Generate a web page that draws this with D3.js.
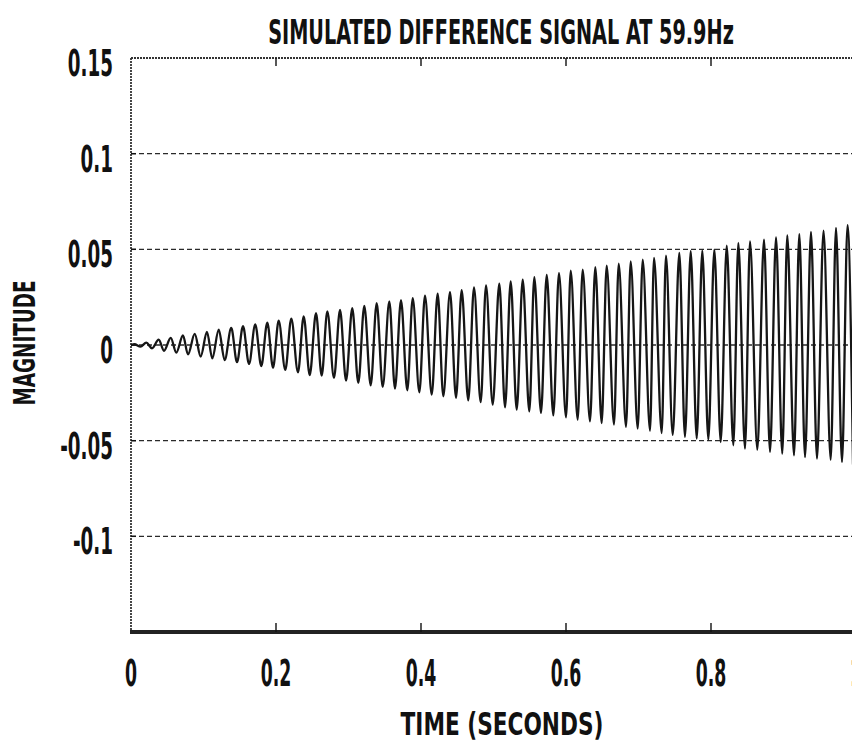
<!DOCTYPE html>
<html><head><meta charset="utf-8">
<script src="https://cdn.jsdelivr.net/npm/d3@7"></script>
<style>html,body{margin:0;padding:0;background:#fff;overflow:hidden}</style>
</head><body><svg id="c" width="852" height="744"></svg>
<script>
const title = "SIMULATED DIFFERENCE SIGNAL AT 59.9Hz";
const xLabel = "TIME (SECONDS)";
const yLabel = "MAGNITUDE";
const xTicks = [0, 0.2, 0.4, 0.6, 0.8, 1];
const xTickLabels = ["0", "0.2", "0.4", "0.6", "0.8", "1"];
const yTicks = [0.15, 0.1, 0.05, 0, -0.05, -0.1];
const yTickLabels = ["0.15", "0.1", "0.05", "0", "-0.05", "-0.1"];
const gridValues = [0.1, 0.05, 0, -0.05, -0.1];

// extrema of the difference signal (seconds, magnitude)
const times = [0, 0.0048, 0.0131, 0.0211, 0.0290, 0.0382, 0.0455, 0.0548, 0.0625, 0.0717,
  0.0786, 0.0879, 0.0961, 0.1048, 0.1121, 0.1210, 0.1292, 0.1383, 0.1462, 0.1545,
  0.1628, 0.1714, 0.1797, 0.1880, 0.1959, 0.2037, 0.2128, 0.2211, 0.2303, 0.2382,
  0.2465, 0.2552, 0.2630, 0.2708, 0.2800, 0.2883, 0.2966, 0.3052, 0.3135, 0.3218,
  0.3306, 0.3389, 0.3472, 0.3563, 0.3641, 0.3724, 0.3811, 0.3886, 0.3977, 0.4055,
  0.4148, 0.4230, 0.4308, 0.4400, 0.4483, 0.4561, 0.4652, 0.4731, 0.4823, 0.4897,
  0.4989, 0.5080, 0.5159, 0.5237, 0.5320, 0.5403, 0.5494, 0.5563, 0.5655, 0.5734,
  0.5825, 0.5903, 0.6000, 0.6065, 0.6161, 0.6230, 0.6331, 0.6404, 0.6492, 0.6561,
  0.6662, 0.6727, 0.6828, 0.6892, 0.6989, 0.7058, 0.7159, 0.7214, 0.7320, 0.7379,
  0.7472, 0.7563, 0.7641, 0.7720, 0.7803, 0.7880, 0.7963, 0.8046, 0.8134, 0.8217,
  0.8308, 0.8377, 0.8469, 0.8538, 0.8639, 0.8731, 0.8814, 0.8897, 0.8983, 0.9052,
  0.9145, 0.9218, 0.9297, 0.9379, 0.9462, 0.9552, 0.9651, 0.9724, 0.9807, 0.9883,
  0.9959];
const values = [0, 0.0004, -0.0008, 0.0012, -0.0017, 0.0028, -0.0030, 0.0037, -0.0040, 0.0050,
  -0.0049, 0.0058, -0.0060, 0.0068, -0.0070, 0.0080, -0.0079, 0.0089, -0.0090, 0.0098,
  -0.0099, 0.0108, -0.0110, 0.0117, -0.0119, 0.0127, -0.0130, 0.0138, -0.0143, 0.0150,
  -0.0157, 0.0166, -0.0160, 0.0175, -0.0172, 0.0184, -0.0186, 0.0192, -0.0198, 0.0205,
  -0.0211, 0.0219, -0.0219, 0.0228, -0.0228, 0.0235, -0.0237, 0.0245, -0.0247, 0.0258,
  -0.0259, 0.0268, -0.0268, 0.0276, -0.0276, 0.0287, -0.0289, 0.0301, -0.0299, 0.0312,
  -0.0311, 0.0320, -0.0326, 0.0332, -0.0338, 0.0341, -0.0347, 0.0355, -0.0355, 0.0367,
  -0.0368, 0.0376, -0.0378, 0.0388, -0.0390, 0.0394, -0.0399, 0.0407, -0.0408, 0.0415,
  -0.0416, 0.0425, -0.0428, 0.0437, -0.0437, 0.0446, -0.0448, 0.0455, -0.0460, 0.0467,
  -0.0470, 0.0481, -0.0480, 0.0490, -0.0489, 0.0493, -0.0494, 0.0498, -0.0507, 0.0519,
  -0.0524, 0.0533, -0.0542, 0.0542, -0.0547, 0.0551, -0.0559, 0.0563, -0.0568, 0.0573,
  -0.0577, 0.0580, -0.0586, 0.0591, -0.0594, 0.0598, -0.0600, 0.0612, -0.0612, 0.0626,
  -0.0625];

const FONT = "'DejaVu Sans Condensed', 'DejaVu Sans', sans-serif";
const INK = "#111";

const svg = d3.select("#c");
const x = d3.scaleLinear().domain([0, 1]).range([131, 856]);
const y = d3.scaleLinear().domain([-0.15, 0.15]).range([632, 58]);

// condensed bold text helper: draws at (px,py), squeezed horizontally
function label(parent, txt, px, py, size, anchor, sx, rot) {
  const g = parent.append("g")
    .attr("transform", `translate(${px},${py})` + (rot ? ` rotate(${rot})` : "") + ` scale(${sx},1)`);
  return g.append("text")
    .attr("text-anchor", anchor)
    .attr("font-family", FONT).attr("font-weight", "bold").attr("font-size", size)
    .attr("fill", INK).text(txt);
}
function fitLabel(parent, txt, px, py, size, width, rot) {
  const t = label(parent, txt, px, py, size, "middle", 1, rot);
  const w = t.node().getComputedTextLength();
  const sx = width / w;
  d3.select(t.node().parentNode)
    .attr("transform", `translate(${px},${py})` + (rot ? ` rotate(${rot})` : "") + ` scale(${sx},1)`);
}

// grid lines
svg.append("g").selectAll("line").data(gridValues).join("line")
  .attr("x1", x(0)).attr("x2", 852)
  .attr("y1", d => y(d)).attr("y2", d => y(d))
  .attr("stroke", "#2a2a2a").attr("stroke-width", 1.4)
  .attr("stroke-dasharray", "5,3");

// frame: top and left (thin dotted), bottom thick
svg.append("line").attr("x1", x(0)).attr("x2", 852).attr("y1", y(0.15)).attr("y2", y(0.15))
  .attr("stroke", "#333").attr("stroke-width", 1.8).attr("stroke-dasharray", "2,1");
svg.append("line").attr("x1", x(0)).attr("x2", x(0)).attr("y1", y(0.15)).attr("y2", y(-0.15))
  .attr("stroke", "#333").attr("stroke-width", 1.8).attr("stroke-dasharray", "2,1");
svg.append("line").attr("x1", x(0) - 1).attr("x2", 852).attr("y1", y(-0.15)).attr("y2", y(-0.15))
  .attr("stroke", "#222").attr("stroke-width", 4);

// tick marks
const inner = xTicks.filter(d => d > 0 && d < 1);
svg.append("g").selectAll("line").data(inner).join("line")
  .attr("x1", d => x(d)).attr("x2", d => x(d))
  .attr("y1", y(0.15)).attr("y2", y(0.15) + 8)
  .attr("stroke", INK).attr("stroke-width", 1.4);
svg.append("g").selectAll("line").data(inner).join("line")
  .attr("x1", d => x(d)).attr("x2", d => x(d))
  .attr("y1", y(-0.15)).attr("y2", y(-0.15) - 9)
  .attr("stroke", INK).attr("stroke-width", 1.4);
svg.append("g").selectAll("line").data(gridValues).join("line")
  .attr("x1", x(0)).attr("x2", x(0) + 5)
  .attr("y1", d => y(d)).attr("y2", d => y(d))
  .attr("stroke", INK).attr("stroke-width", 1.4);

// signal
const pts = times.map((t, i) => [t, values[i]]);
const line = d3.line().x(d => x(d[0])).y(d => y(d[1])).curve(d3.curveMonotoneX);
svg.append("path").attr("d", line(pts))
  .attr("fill", "none").attr("stroke", "#161616").attr("stroke-width", 2.3);

// tick labels
const yl = svg.append("g");
yTicks.forEach((d, i) => label(yl, yTickLabels[i], 113, y(d) + 18, 37, "end", 0.55));
const xl = svg.append("g");
xTicks.forEach((d, i) => label(xl, xTickLabels[i], x(d), 686, 37, "middle", 0.52));

// titles
fitLabel(svg, title, 501, 44, 33, 466);
fitLabel(svg, xLabel, 502, 735, 32, 203);
fitLabel(svg, yLabel, 35, 343, 30, 125, -90);
</script>
</body></html>
